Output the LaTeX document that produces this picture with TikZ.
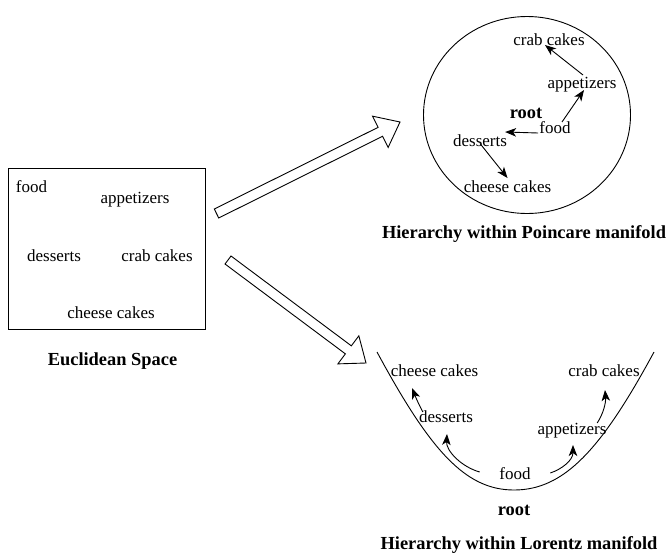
\documentclass[tikz,border=0pt]{standalone}
\usepackage{fontspec}
\setmainfont{Liberation Serif}
\usetikzlibrary{arrows.meta,calc}
\newcommand\myfatarrow[2]{%
  \coordinate (fT) at #1; \coordinate (fH) at #2;
  \coordinate (fB) at ($(fH)!22pt!(fT)$);
  \draw[bigarr] ($(fT)!5pt!90:(fH)$) -- ($(fB)!5pt!-90:(fT)$) -- ($(fB)!17.5pt!-90:(fT)$) -- (fH)
     -- ($(fB)!17.5pt!90:(fT)$) -- ($(fB)!5pt!90:(fT)$) -- ($(fT)!5pt!-90:(fH)$) -- cycle;}
\begin{document}
\begin{tikzpicture}[x=1pt,y=-1pt,
  txt/.style={inner sep=0pt, font=\fontsize{17}{20}\selectfont, text height=11.6pt, text depth=0pt},
  btxt/.style={inner sep=0pt, font=\fontsize{18.4}{22}\selectfont\bfseries, text height=12.4pt, text depth=0pt},
  arr/.style={-{Stealth[length=11pt,width=8.5pt,inset=3pt]}, line width=0.9pt},
  bigarr/.style={draw, line width=0.9pt, fill=white, line join=miter},
  outl/.style={line width=0.9pt}]
\useasboundingbox (0,0) rectangle (668,552);
\fill[white] (0,0) rectangle (668,552);

% Euclidean space
\node[draw, outl, minimum width=197pt, minimum height=161pt, inner sep=0pt] (ebox) at (106.5,248.5) {};
\node[txt] (efood) at (31.5,187) {food};
\node[txt] (eapp) at (135,197.5) {appetizers};
\node[txt] (edes) at (54,255.5) {desserts};
\node[txt] (ecrab) at (157,255.5) {crab cakes};
\node[txt] (echeese) at (111,312.5) {cheese cakes};
\node[btxt] (ecap) at (112.5,359) {Euclidean Space};

% big arrows
\myfatarrow{(216.5,213.5)}{(400,122)}
\myfatarrow{(228,260)}{(366,363)}

% Poincare disc
\draw[outl] (527,115) ellipse [x radius=103.5, y radius=98.5];
\node[txt] (pcrab) at (549,40) {crab cakes};
\node[txt] (papp) at (582,83) {appetizers};
\node[btxt] (proot) at (526,112) {root};
\node[txt] (pfood) at (555,128) {food};
\node[txt] (pdes) at (480,141) {desserts};
\node[txt] (pcheese) at (507.5,187) {cheese cakes};
\node[btxt] (pcap) at (524,232.5) {Hierarchy within Poincare manifold};
\draw[arr] ([xshift=1pt,yshift=2pt]papp.north) -- ([xshift=-4pt,yshift=1pt]pcrab.south);
\draw[arr] ([xshift=7pt]pfood.north) -- ([xshift=2pt,yshift=-1pt]papp.south);
\draw[arr] ([xshift=-1pt,yshift=-5pt]pfood.west) -- ([xshift=-2pt,yshift=3pt]pdes.north east);
\draw[arr] ([yshift=3.5pt]pdes.south) -- ([yshift=3pt]pcheese.north);

% Lorentz manifold
\draw[outl] (377,352) .. controls (430,450) and (465,490) .. (514,490)
   .. controls (564,490) and (601,450) .. (654,352);
\node[txt] (lcheese) at (434.5,371) {cheese cakes};
\node[txt] (lcrab) at (604,371) {crab cakes};
\node[txt] (ldes) at (446,417) {desserts};
\node[txt] (lapp) at (572,429) {appetizers};
\node[txt] (lfood) at (515,474) {food};
\node[btxt] (lroot) at (514,508.8) {root};
\node[btxt] (lcap) at (519,543) {Hierarchy within Lorentz manifold};
\draw[arr] ([xshift=-19.5pt,yshift=2pt]lfood.west) .. controls +(-18,-5) and +(-1,17) .. ([xshift=1pt,yshift=-11pt]ldes.south);
\draw[arr] ([xshift=4pt,yshift=-1pt]ldes.north west) .. controls +(-5,-9) and +(2,5) .. ([xshift=-22.5pt,yshift=-11pt]lcheese.south);
\draw[arr] ([xshift=19.5pt,yshift=1pt]lfood.east) .. controls +(12,-4) and +(0,15) .. ([xshift=1pt,yshift=-10pt]lapp.south);
\draw[arr] ([xshift=-9.5pt]lapp.north east) .. controls +(6,-9) and +(1,13) .. ([xshift=1pt,yshift=-13pt]lcrab.south);
\end{tikzpicture}
\end{document}
